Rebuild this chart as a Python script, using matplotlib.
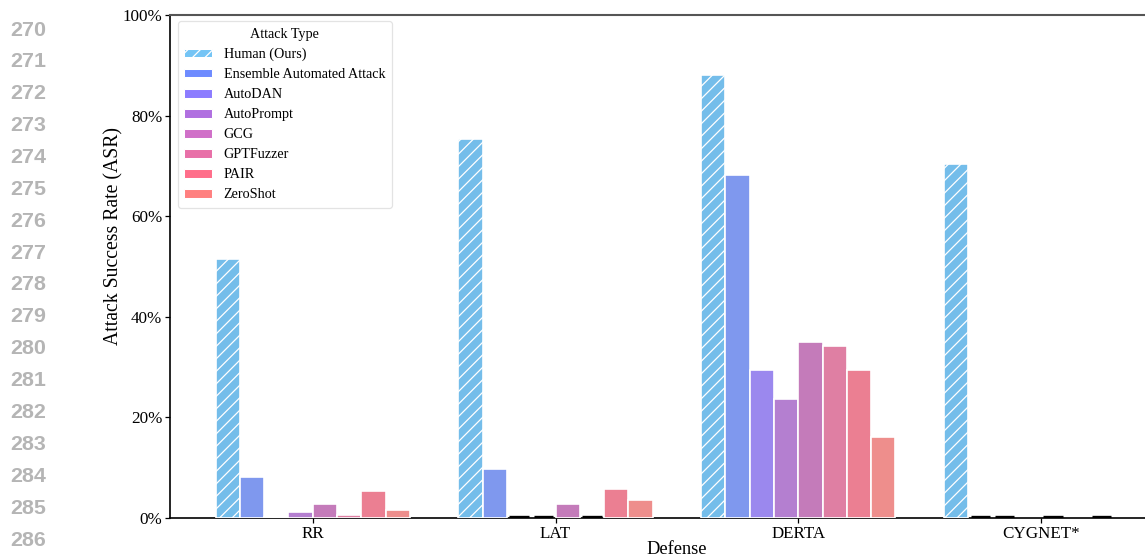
import numpy as np
import matplotlib
matplotlib.use("Agg")
import matplotlib.pyplot as plt
from matplotlib.patches import Patch
from matplotlib.ticker import PercentFormatter

defenses = ["RR", "LAT", "DERTA", "CYGNET*"]
attacks = ["Human (Ours)", "Ensemble Automated Attack", "AutoDAN", "AutoPrompt",
           "GCG", "GPTFuzzer", "PAIR", "ZeroShot"]
nan = np.nan
human = [51.5, 75.4, 88.0, 70.3]
ensemble = [8.2, 9.8, 68.2, 0.0]
autodan = [0.2, 0.0, 29.4, 0.0]
autoprompt = [1.1, 0.0, 23.6, nan]
gcg = [2.8, 2.8, 34.9, 0.0]
gptfuzzer = [0.6, 0.0, 34.1, nan]
pair = [5.3, 5.7, 29.4, 0.0]
zeroshot = [1.5, 3.6, 16.1, nan]
series = [human, ensemble, autodan, autoprompt, gcg, gptfuzzer, pair, zeroshot]

bar_colors = ["#74BDEA", "#7F98EE", "#9B88EE", "#B47FD0", "#C47BBA",
              "#DF7FA3", "#EB7F92", "#EE8E8C"]
legend_colors = ["#74C4F5", "#6E8BFF", "#8C7CFF", "#B070E0", "#D070C8",
                 "#E870A8", "#FF6E8A", "#FF8080"]

plt.rcParams['font.family'] = ['Liberation Serif', 'DejaVu Serif']
plt.rcParams['hatch.color'] = 'white'
plt.rcParams['hatch.linewidth'] = 0.6

DPI = 150
fig = plt.figure(figsize=(1145 / DPI, 560 / DPI), dpi=DPI)
ax = fig.add_axes([170 / 1145, 1 - 518 / 560, 1013.8 / 1145, (518 - 15) / 560])

x = np.arange(len(defenses))
w = 0.1
for i, (name, vals) in enumerate(zip(attacks, series)):
    pos = x + (i - 3.5) * w
    vals = np.array(vals, dtype=float)
    for p, v in zip(pos, vals):
        if np.isnan(v):
            continue
        if v == 0:
            ax.hlines(0.002, p - 0.04, p + 0.04, color='black', lw=1.6, zorder=4)
        else:
            ax.bar(p, v / 100, width=w, color=bar_colors[i], edgecolor='white',
                   linewidth=0.8, hatch='////' if i == 0 else None, zorder=3)

ax.set_xlim(-0.588, 3.588)
ax.set_ylim(0, 1)
ax.yaxis.set_major_formatter(PercentFormatter(1.0, decimals=0))
ax.set_yticks([0, 0.2, 0.4, 0.6, 0.8, 1.0])
ax.set_xticks(x)
ax.set_xticklabels(defenses)
ax.tick_params(axis='both', labelsize=8.2, length=2.2, width=0.6, pad=1.5)
ax.set_ylabel("Attack Success Rate (ASR)", fontsize=9.5)
ax.yaxis.set_label_coords(-0.046, 0.56)
ax.set_xlabel("Defense", fontsize=8.8, labelpad=-0.5)
ax.spines['top'].set_color('#555555')
ax.spines['top'].set_linewidth(1.0)
ax.spines['bottom'].set_linewidth(0.8)
ax.spines['left'].set_linewidth(0.8)

handles = []
for i, name in enumerate(attacks):
    handles.append(Patch(facecolor=legend_colors[i], edgecolor='white', linewidth=0.5,
                         hatch='////' if i == 0 else None, label=name))
leg = ax.legend(handles=handles, title="Attack Type", loc='upper left',
                fontsize=6.75, title_fontsize=6.75, frameon=True,
                bbox_to_anchor=(0.005, 0.993), borderaxespad=0.2,
                handlelength=2.0, handleheight=0.55, labelspacing=0.5,
                handletextpad=0.8, borderpad=0.45)
leg.get_frame().set_edgecolor('#DDDDDD')
leg.get_frame().set_linewidth(0.6)

for k in range(17):
    fig.text(10 / 1145, 1 - (30 + k * 31.875) / 560, str(270 + k),
             fontsize=10.3, color='#B5B5B5', fontweight='bold',
             family='Liberation Sans', ha='left', va='center')

fig.savefig("out.png", dpi=DPI)
